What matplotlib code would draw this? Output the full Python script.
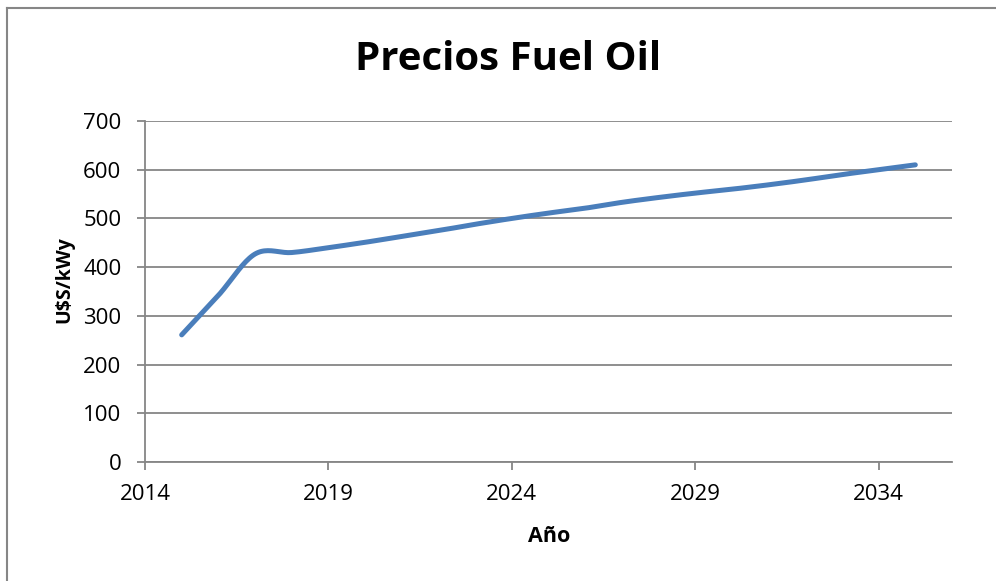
import numpy as np
import matplotlib
matplotlib.use("Agg")
import matplotlib.pyplot as plt
from matplotlib.lines import Line2D

years = [2015, 2016, 2017, 2018, 2019, 2020, 2021, 2022, 2023, 2024, 2025,
         2026, 2027, 2028, 2029, 2030, 2031, 2032, 2033, 2034, 2035]
prices = [261, 342, 427, 430, 440, 451, 463, 475, 488, 500, 511,
          521, 533, 543, 552, 560, 569, 579, 590, 600, 610]
x_ticks = [2014, 2019, 2024, 2029, 2034]
y_ticks = [0, 100, 200, 300, 400, 500, 600, 700]

title = "Precios Fuel Oil"
xlabel = "Año"
ylabel = "U$S/kWy"


def catmull_rom(x, y, n=20):
    x = np.asarray(x, float)
    y = np.asarray(y, float)
    px = np.concatenate([[2 * x[0] - x[1]], x, [2 * x[-1] - x[-2]]])
    py = np.concatenate([[2 * y[0] - y[1]], y, [2 * y[-1] - y[-2]]])
    xs, ys = [], []
    t = np.linspace(0, 1, n, endpoint=False)
    for i in range(1, len(px) - 2):
        for p, out in ((px, xs), (py, ys)):
            p0, p1, p2, p3 = p[i - 1], p[i], p[i + 1], p[i + 2]
            out.extend(0.5 * ((2 * p1) + (-p0 + p2) * t
                              + (2 * p0 - 5 * p1 + 4 * p2 - p3) * t ** 2
                              + (-p0 + 3 * p1 - 3 * p2 + p3) * t ** 3))
    xs.append(x[-1]); ys.append(y[-1])
    return np.array(xs), np.array(ys)


plt.rcParams['font.family'] = ['Open Sans', 'DejaVu Sans']

W, H = 996, 581
fig = plt.figure(figsize=(W / 100, H / 100), dpi=100)
ax = fig.add_axes([145 / W, 1 - 462 / H, (952 - 145) / W, (462 - 121) / H])

grid_c = "#868686"
sx, sy = catmull_rom(years, prices)
ax.plot(sx, sy, color="#4A7EBB", lw=3.6, solid_capstyle="round",
        solid_joinstyle="round", zorder=3)

ax.set_xlim(2014, 2036)
ax.set_ylim(0, 700)
ax.set_xticks(x_ticks)
ax.set_yticks(y_ticks)
ax.yaxis.grid(True, color=grid_c, lw=1.3)
ax.set_axisbelow(True)
for s in ["top", "right"]:
    ax.spines[s].set_visible(False)
for s in ["left", "bottom"]:
    ax.spines[s].set_color(grid_c)
    ax.spines[s].set_linewidth(1.3)
ax.tick_params(axis="both", direction="out", length=6, width=1.3,
               color=grid_c, labelsize=16, labelcolor="black")
ax.tick_params(axis="x", pad=10)
ax.tick_params(axis="y", pad=11)

fig.text(508 / W, 1 - 60 / H, title, ha="center", va="center",
         fontsize=29, fontweight="bold")
fig.text(549 / W, 1 - 537 / H, xlabel, ha="center", va="center",
         fontsize=15.5, fontweight="bold")
fig.text(64 / W, 1 - 280 / H, ylabel, ha="center", va="center",
         fontsize=14, fontweight="bold", rotation=90)

# outer chart border (left and top edges visible)
fig.add_artist(Line2D([7 / W, 7 / W], [0, 1 - 8 / H], transform=fig.transFigure,
                      color=grid_c, lw=1.5))
fig.add_artist(Line2D([7 / W, 1], [1 - 8 / H, 1 - 8 / H], transform=fig.transFigure,
                      color=grid_c, lw=1.5))

fig.savefig("out.png", dpi=100)
